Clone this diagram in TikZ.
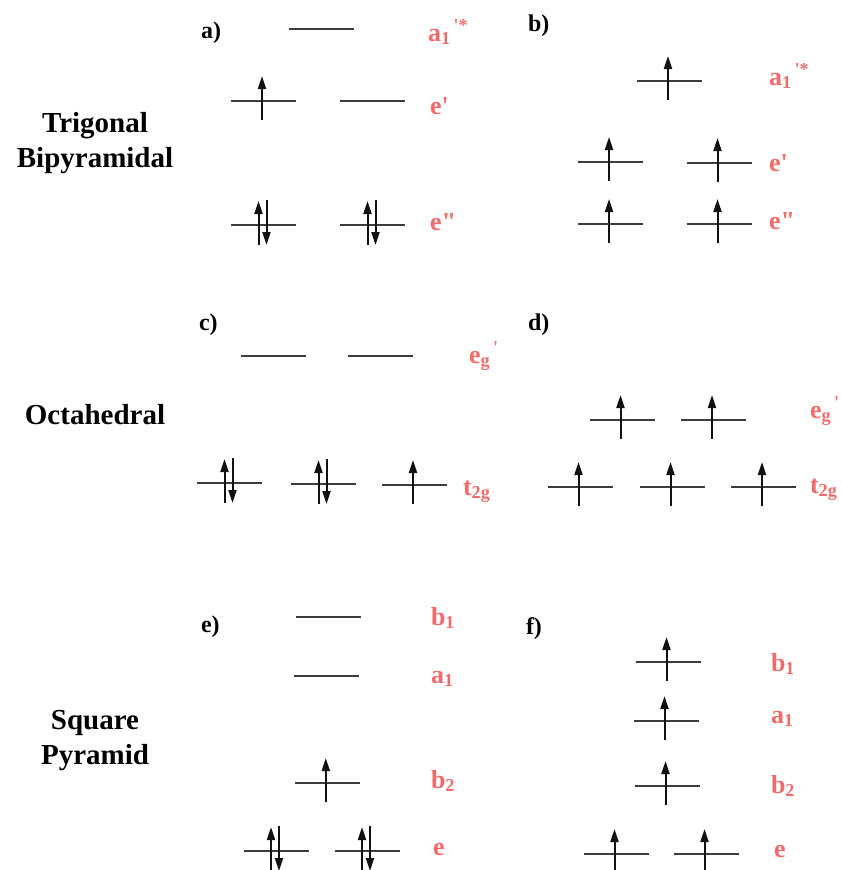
\documentclass[tikz,border=0pt]{standalone}
\usepackage{fontspec}
\setmainfont{Liberation Serif}
\usetikzlibrary{arrows.meta}
\definecolor{clevel}{HTML}{3C3C3C}
\definecolor{cspin}{HTML}{111111}
\definecolor{csym}{HTML}{F46A6A}
\tikzset{
  every picture/.style={font=\bfseries, line width=2pt},
  level/.style={draw=clevel, line width=2pt},
  spin/.style={-{Triangle[length=13pt,width=8pt]}, draw=cspin, line width=2pt},
  sym/.style={text=csym, anchor=base west, inner sep=0pt, font=\fontsize{26}{30}\selectfont\bfseries},
  tag/.style={anchor=base west, inner sep=0pt, font=\fontsize{24}{28}\selectfont\bfseries},
  title/.style={align=center, inner sep=0pt, font=\fontsize{29}{35}\selectfont\bfseries},
}
\newcommand{\pr}{\textquotesingle}

\begin{document}
\begin{tikzpicture}[x=1pt, y=-1pt]
  \useasboundingbox (0,0) rectangle (842,870);
  % ---------- geometry names
  \node[title] (tbp) at (95,143) {Trigonal\\Bipyramidal};
  \node[title] (oct) at (95,415) {Octahedral};
  \node[title] (spy) at (95,741) {Square\\Pyramid};
  % ---------- panel tags
  \foreach \x/\y/\t in {200/38/a, 527/31/b, 198/330/c, 527/330/d, 200/632/e, 525/634/f}
    \node[tag] (tag\t) at (\x,\y) {\t)};
  % ---------- levels: centre x / y / electrons
  \foreach \cx/\y/\n in {321.5/29/0, 263.5/101/1, 372.5/101/0, 263.5/225/2, 372.5/225/2,
      669.5/81/1, 610.5/162/1, 719/163/1, 610.5/224/1, 719/224/1,
      273/356/0, 380.5/356/0, 229.5/483/2, 323.5/484/2, 414.5/485/1,
      622/420/1, 713.5/420/1, 580/487/1, 672/487/1, 763.5/487/1,
      328.5/617/0, 326/676/0, 327.3/783/1, 276/851/2, 367/851/2,
      668/662/1, 666/721/1, 667/786/1, 616/854/1, 706/854/1}{
    \draw[level] (\cx-32.5,\y) -- (\cx+32.5,\y);
    \ifcase\n \or
      \draw[spin] (\cx-1.5,\y+19) -- (\cx-1.5,\y-25);
    \or
      \draw[spin] (\cx-5,\y+20) -- (\cx-5,\y-24);
      \draw[spin] (\cx+3,\y-25) -- (\cx+3,\y+20);
    \fi
  }
  % ---------- symmetry labels
  \node[sym] (sa1) at (427,41) {a\textsubscript{1}\textsuperscript{\,\pr*}};
  \node[sym] (sa2) at (429,114) {e\pr};
  \node[sym] (sa3) at (429,230) {e\textquotedbl};
  \node[sym] (sb1) at (768,85) {a\textsubscript{1}\textsuperscript{\,\pr*}};
  \node[sym] (sb2) at (768,171) {e\pr};
  \node[sym] (sb3) at (768,229) {e\textquotedbl};
  \node[sym] (sc1) at (468,363) {e\textsubscript{g}\textsuperscript{\,\pr}};
  \node[sym] (sc2) at (462,495) {t\textsubscript{2g}};
  \node[sym] (sd1) at (809,418) {e\textsubscript{g}\textsuperscript{\,\pr}};
  \node[sym] (sd2) at (809,493) {t\textsubscript{2g}};
  \node[sym] (se1) at (430,625) {b\textsubscript{1}};
  \node[sym] (se2) at (430,683) {a\textsubscript{1}};
  \node[sym] (se3) at (430,788) {b\textsubscript{2}};
  \node[sym] (se4) at (432,855) {e};
  \node[sym] (sf1) at (770,671) {b\textsubscript{1}};
  \node[sym] (sf2) at (770,723) {a\textsubscript{1}};
  \node[sym] (sf3) at (770,793) {b\textsubscript{2}};
  \node[sym] (sf4) at (773,857) {e};
\end{tikzpicture}
\end{document}
